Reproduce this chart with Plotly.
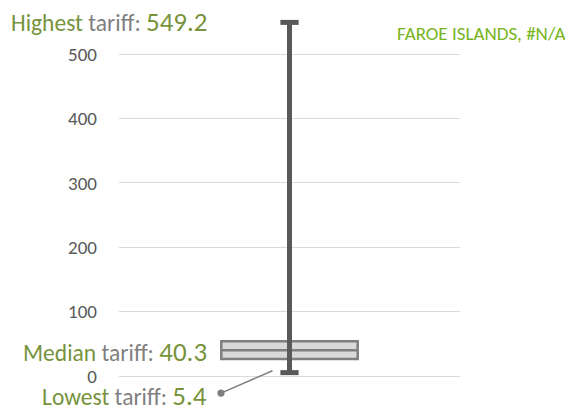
import plotly.graph_objects as go

# ---- data ----
country = "FAROE ISLANDS"
country_value = "#N/A"
lowest = [5.4]
q1 = [26.4]
median = [40.3]
q3 = [54.3]
highest = [549.2]
ytick_vals = [0, 100, 200, 300, 400, 500]
ytick_text = ["0", "100", "200", "300", "400", "500"]

# page has an 8px body margin, so the figure is drawn from (8, 8)
OFF = 8
W, H = 573 - OFF, 407 - OFF
ML = 119 - OFF
MT = 9 - OFF
MR = W - (460 - OFF)
MB = H - (388.9 - OFF)
YR = [-20, 570]

GREEN = "#77933C"
GRAY = "#7F7F7F"
DARK = "#595959"
FONT = "Carlito, Lato, Open Sans, sans-serif"


def px(xp):
    return (xp - OFF - ML) / (W - ML - MR)


def py(yp):
    return 1 - (yp - OFF - MT) / (H - MT - MB)


def label(word, value):
    return (f"<span style='color:{GREEN}'>{word}</span>"
            f"<span style='color:{GRAY}'> tariff: </span>"
            f"<span style='color:{GREEN};font-size:27px'>{value}</span>")


fig = go.Figure()

fig.add_trace(go.Box(
    x=[0], q1=q1, median=median, q3=q3, lowerfence=q1, upperfence=q3,
    width=0.4, fillcolor="#D9D9D9", line=dict(color=GRAY, width=2.5),
    whiskerwidth=0, hoverinfo="skip", showlegend=False,
))

fig.add_trace(go.Scatter(
    x=[0, 0], y=[lowest[0], highest[0]], mode="lines+markers",
    line=dict(color=DARK, width=5),
    marker=dict(symbol="line-ew", size=13, line=dict(color=DARK, width=5), color=DARK),
    hoverinfo="skip", showlegend=False,
))

anns = []
anns.append(dict(
    xref="paper", yref="paper", x=px(9), y=py(21), xanchor="left", yanchor="middle",
    text=label("Highest", highest[0]),
    showarrow=False, font=dict(family=FONT, size=23.5),
))
anns.append(dict(
    xref="paper", yref="paper", x=px(209), y=py(351), xanchor="right", yanchor="middle",
    text=label("Median", median[0]),
    showarrow=False, font=dict(family=FONT, size=23.5),
))
anns.append(dict(
    xref="paper", yref="paper", x=px(209), y=py(395), xanchor="right", yanchor="middle",
    text=label("Lowest", lowest[0]),
    showarrow=False, font=dict(family=FONT, size=23.5),
))
anns.append(dict(
    xref="paper", yref="paper", x=px(221), y=py(393), text="",
    showarrow=True, arrowhead=6, arrowsize=1.2, arrowwidth=1.5, arrowcolor=GRAY,
    ax=53, ay=-23, axref="pixel", ayref="pixel",
))
anns.append(dict(
    xref="paper", yref="paper", x=px(568), y=py(33), xanchor="right", yanchor="middle",
    text=f"{country}, {country_value}", showarrow=False,
    font=dict(family=FONT, size=19, color="#78B41E"),
))

fig.update_layout(
    width=W, height=H, margin=dict(l=ML, r=MR, t=MT, b=MB, autoexpand=False),
    paper_bgcolor="white", plot_bgcolor="white",
    annotations=anns,
    xaxis=dict(range=[-0.5, 0.5], showgrid=False, zeroline=False, showticklabels=False,
               showline=False, fixedrange=True),
    yaxis=dict(range=YR, tickvals=ytick_vals, ticktext=ytick_text, showgrid=True,
               gridcolor="#D9D9D9", gridwidth=1, zeroline=False, showline=False,
               tickfont=dict(family=FONT, size=19, color=DARK), ticklabelstandoff=21),
)

fig.write_html("out.html")
